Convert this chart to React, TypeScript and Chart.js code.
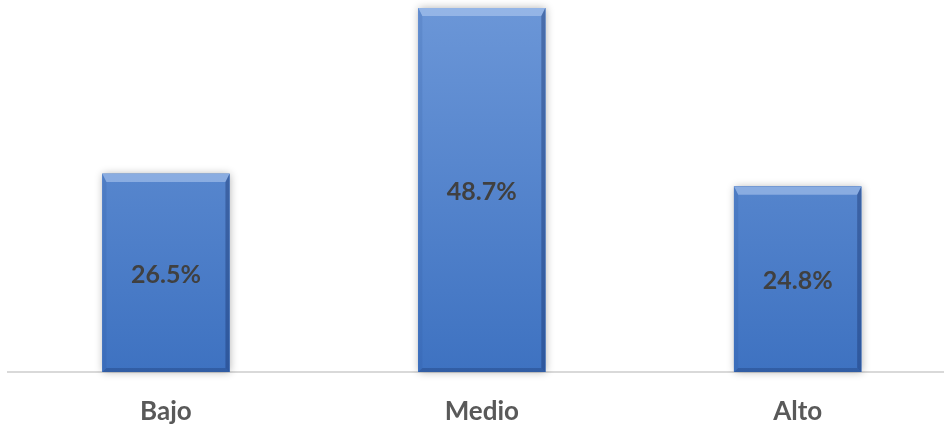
import React, { useEffect, useRef } from "react";
import { Chart, registerables } from "chart.js";

Chart.register(...registerables);

const categories = ["Bajo", "Medio", "Alto"];
const values = [26.5, 48.7, 24.8];
const valueLabels = ["26.5%", "48.7%", "24.8%"];

const FONT = "Lato, 'Open Sans', sans-serif";

const barDecor = {
  id: "barDecor",
  beforeDatasetsDraw(chart: any) {
    const ctx = chart.ctx;
    const meta = chart.getDatasetMeta(0);
    ctx.save();
    meta.data.forEach((el: any) => {
      const { x, y, base, width } = el.getProps(["x", "y", "base", "width"], true);
      ctx.shadowColor = "rgba(0,0,0,0.3)";
      ctx.shadowBlur = 8;
      ctx.shadowOffsetX = 1;
      ctx.shadowOffsetY = 0;
      ctx.fillStyle = "#4a7cc6";
      ctx.fillRect(x - width / 2, y, width, base - y);
    });
    ctx.restore();
  },
  afterDatasetsDraw(chart: any) {
    const ctx = chart.ctx;
    const meta = chart.getDatasetMeta(0);
    ctx.save();
    meta.data.forEach((el: any, i: number) => {
      const { x, y, base, width } = el.getProps(["x", "y", "base", "width"], true);
      const l = x - width / 2;
      const r = x + width / 2;
      const t = 8;
      const s = 4;
      // top bevel
      ctx.fillStyle = "rgba(190,212,245,0.5)";
      ctx.beginPath();
      ctx.moveTo(l, y);
      ctx.lineTo(r, y);
      ctx.lineTo(r - s, y + t);
      ctx.lineTo(l + s, y + t);
      ctx.closePath();
      ctx.fill();
      // left bevel
      ctx.fillStyle = "rgba(40,80,150,0.15)";
      ctx.beginPath();
      ctx.moveTo(l, y);
      ctx.lineTo(l + s, y + t);
      ctx.lineTo(l + s, base - s);
      ctx.lineTo(l, base);
      ctx.closePath();
      ctx.fill();
      // right bevel
      ctx.fillStyle = "rgba(20,45,100,0.38)";
      ctx.beginPath();
      ctx.moveTo(r, y);
      ctx.lineTo(r - s, y + t);
      ctx.lineTo(r - s, base - s);
      ctx.lineTo(r, base);
      ctx.closePath();
      ctx.fill();
      // bottom bevel
      ctx.fillStyle = "rgba(20,45,100,0.3)";
      ctx.beginPath();
      ctx.moveTo(l, base);
      ctx.lineTo(l + s, base - s);
      ctx.lineTo(r - s, base - s);
      ctx.lineTo(r, base);
      ctx.closePath();
      ctx.fill();
      // value label
      ctx.fillStyle = "#404040";
      ctx.font = `bold 25px ${FONT}`;
      ctx.textAlign = "center";
      ctx.textBaseline = "middle";
      ctx.fillText(valueLabels[i], x, (y + base) / 2 + 2);
    });
    ctx.restore();
  },
};

export default function App() {
  const ref = useRef<HTMLCanvasElement>(null);
  useEffect(() => {
    const canvas = ref.current!;
    const ctx = canvas.getContext("2d")!;
    const grad = ctx.createLinearGradient(0, 0, 0, 372);
    grad.addColorStop(0, "#6c97d8");
    grad.addColorStop(1, "#3e72c1");
    const chart = new Chart(canvas, {
      type: "bar",
      data: {
        datasets: [
          {
            data: values.map((v, i) => ({ x: i, y: v })),
            backgroundColor: grad,
            borderWidth: 0,
            barThickness: 127,
          },
        ],
      },
      options: {
        responsive: false,
        animation: false,
        layout: { padding: { left: 8, right: 1, top: 8, bottom: 0 } },
        plugins: { legend: { display: false }, tooltip: { enabled: false } },
        scales: {
          x: {
            type: "linear",
            offset: false,
            min: -0.5,
            max: 2.46,
            grid: { display: false, drawTicks: false, offset: false },
            border: { display: true, color: "#d9d9d9", width: 2 },
            afterBuildTicks: (axis: any) => {
              axis.ticks = [0, 1, 2].map((v) => ({ value: v }));
            },
            afterFit: (axis: any) => {
              axis.height = 53;
            },
            ticks: {
              autoSkip: false,
              maxRotation: 0,
              padding: 24,
              color: "#595959",
              font: { family: FONT, size: 26, weight: "bold" },
              callback: (v: any) => categories[v as number] ?? "",
            },
          },
          y: {
            display: false,
            min: 0,
            max: 48.7,
          },
        },
      },
      plugins: [barDecor],
    });
    return () => chart.destroy();
  }, []);
  return (
    <div style={{ position: "absolute", left: 0, top: 0, width: 944, height: 425 }}>
      <canvas ref={ref} width={944} height={425} style={{ width: 944, height: 425 }} />
    </div>
  );
}
